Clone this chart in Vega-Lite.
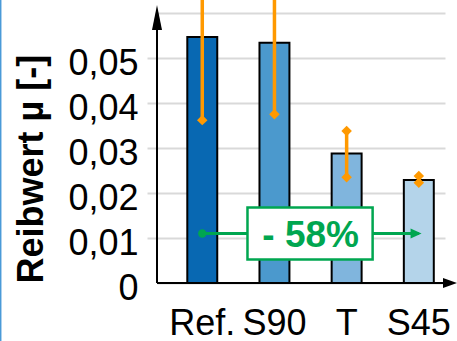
{
  "$schema": "https://vega.github.io/schema/vega-lite/v6.json",
  "width": 288,
  "height": 283,
  "autosize": {"type": "none"},
  "padding": {"left": 157, "top": 0, "right": 12, "bottom": 58},
  "background": "white",
  "config": {"view": {"stroke": null}, "font": "Liberation Sans"},
  "datasets": {
    "bars": [
      {"cat": "Ref.", "mu": 0.0547, "lo": 0.0362, "hi": 0.0732},
      {"cat": "S90", "mu": 0.0534, "lo": 0.0375, "hi": 0.0693},
      {"cat": "T", "mu": 0.0288, "lo": 0.0235, "hi": 0.0338},
      {"cat": "S45", "mu": 0.0229, "lo": 0.0223, "hi": 0.0238}
    ],
    "note": [
      {"start": "Ref.", "end": "S45", "level": 0.011, "boxLeft": "S90", "boxRight": "T", "label": "- 58%"}
    ],
    "frame": [{"k": 0}]
  },
  "layer": [
    {
      "data": {"name": "bars"},
      "mark": {"type": "bar", "stroke": "black", "strokeWidth": 2},
      "encoding": {
        "x": {
          "field": "cat", "type": "nominal",
          "scale": {"domain": ["Ref.", "S90", "T", "S45"], "paddingInner": 0.585, "paddingOuter": 0.2875, "align": 0.73},
          "axis": {"title": null, "ticks": false, "tickSize": 0, "domain": false, "grid": false, "labelAngle": 0,
                   "labelFontSize": 36, "labelColor": "black", "labelPadding": 23, "labelFont": "Liberation Sans"}
        },
        "y": {
          "field": "mu", "type": "quantitative",
          "scale": {"domain": [0, 0.0629], "nice": false, "zero": true},
          "axis": {
            "values": [0, 0.01, 0.02, 0.03, 0.04, 0.05, 0.06],
            "labelExpr": "datum.value == 0 ? '0' : datum.value > 0.055 ? '' : replace(format(datum.value, '.2f'), '.', ',')",
            "domain": false, "grid": true, "gridColor": "#d9d9d9", "gridWidth": 2,
            "ticks": true, "tickColor": "#d9d9d9", "tickWidth": 2, "tickSize": 10,
            "tickOpacity": {"condition": {"test": "datum.value == 0 || datum.value > 0.055", "value": 0}, "value": 1},
            "labelFontSize": 36, "labelColor": "black", "labelPadding": 9, "labelOffset": 5,
            "labelFont": "Liberation Sans", "labelOverlap": false, "labelFlush": false, "labelBound": false,
            "title": "Reibwert µ [-]", "titleFontSize": 36, "titleFontWeight": "bold", "titleColor": "black",
            "titleAnchor": "start", "titlePadding": 17, "titleFont": "Liberation Sans"
          }
        },
        "fill": {
          "field": "cat", "type": "nominal",
          "scale": {"domain": ["Ref.", "S90", "T", "S45"], "range": ["#0868b2", "#4b99cd", "#80b5dd", "#b4d4ea"]},
          "legend": null
        }
      }
    },
    {
      "data": {"name": "bars"},
      "mark": {"type": "rule", "color": "#ff9900", "strokeWidth": 3.5, "clip": true},
      "encoding": {
        "x": {"field": "cat", "type": "nominal"},
        "y": {"field": "lo", "type": "quantitative"},
        "y2": {"field": "hi"}
      }
    },
    {
      "data": {"name": "bars"},
      "mark": {"type": "point", "shape": "diamond", "filled": true, "color": "#ff9900", "size": 110, "opacity": 1, "clip": true},
      "encoding": {
        "x": {"field": "cat", "type": "nominal"},
        "y": {"field": "lo", "type": "quantitative"}
      }
    },
    {
      "data": {"name": "bars"},
      "mark": {"type": "point", "shape": "diamond", "filled": true, "color": "#ff9900", "size": 110, "opacity": 1, "clip": true},
      "encoding": {
        "x": {"field": "cat", "type": "nominal"},
        "y": {"field": "hi", "type": "quantitative"}
      }
    },
    {
      "data": {"name": "note"},
      "mark": {"type": "rule", "color": "#00a650", "strokeWidth": 3},
      "encoding": {
        "x": {"field": "start", "type": "nominal"},
        "x2": {"field": "end"},
        "y": {"field": "level", "type": "quantitative"}
      }
    },
    {
      "data": {"name": "note"},
      "mark": {"type": "point", "shape": "circle", "filled": true, "color": "#00a650", "size": 70, "opacity": 1},
      "encoding": {
        "x": {"field": "start", "type": "nominal"},
        "y": {"field": "level", "type": "quantitative"}
      }
    },
    {
      "data": {"name": "note"},
      "mark": {"type": "point", "shape": "M-1.5,-0.9L0.5,0L-1.5,0.9Z", "filled": true, "color": "#00a650", "size": 121, "opacity": 1},
      "encoding": {
        "x": {"field": "end", "type": "nominal"},
        "y": {"field": "level", "type": "quantitative"}
      }
    },
    {
      "data": {"name": "note"},
      "mark": {"type": "rect", "fill": "white", "stroke": "#00a650", "strokeWidth": 2.5, "xOffset": -12, "x2Offset": 11, "yOffset": -26, "y2Offset": 26},
      "encoding": {
        "x": {"field": "boxLeft", "type": "nominal", "bandPosition": 0},
        "x2": {"field": "boxRight", "bandPosition": 1},
        "y": {"field": "level", "type": "quantitative"},
        "y2": {"field": "level"}
      }
    },
    {
      "data": {"name": "note"},
      "mark": {"type": "text", "color": "#00a650", "fontSize": 37, "fontWeight": "bold", "font": "Liberation Sans", "align": "center", "baseline": "alphabetic", "dx": -21, "dy": 13},
      "encoding": {
        "x": {"field": "boxRight", "type": "nominal", "bandPosition": 0},
        "y": {"field": "level", "type": "quantitative"},
        "text": {"field": "label"}
      }
    },
    {
      "data": {"name": "frame"},
      "mark": {"type": "rule", "color": "black", "strokeWidth": 2},
      "encoding": {
        "x": {"value": 0},
        "y": {"datum": 0, "type": "quantitative"},
        "y2": {"datum": 0.058}
      }
    },
    {
      "data": {"name": "frame"},
      "mark": {"type": "point", "shape": "M0,-1L-0.4,1L0.4,1Z", "filled": true, "color": "black", "size": 625, "opacity": 1},
      "encoding": {
        "x": {"value": 0},
        "y": {"datum": 0.059, "type": "quantitative"}
      }
    },
    {
      "data": {"name": "frame"},
      "mark": {"type": "rule", "color": "black", "strokeWidth": 2},
      "encoding": {
        "x": {"value": 0},
        "x2": {"value": 290},
        "y": {"datum": 0, "type": "quantitative"}
      }
    },
    {
      "data": {"name": "frame"},
      "mark": {"type": "point", "shape": "M1,0L-1,-0.7L-1,0.7Z", "filled": true, "color": "black", "size": 196, "opacity": 1},
      "encoding": {
        "x": {"value": 293},
        "y": {"datum": 0, "type": "quantitative"}
      }
    },
    {
      "data": {"name": "frame"},
      "mark": {"type": "rule", "color": "#4a9ad8", "strokeWidth": 1.5},
      "encoding": {
        "x": {"value": -156.3},
        "y": {"value": 0},
        "y2": {"value": 341}
      }
    }
  ]
}
